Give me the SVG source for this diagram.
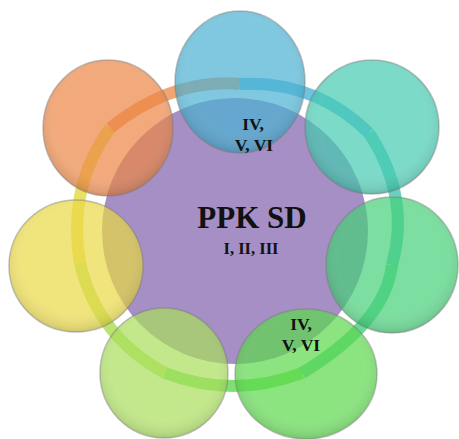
<svg xmlns="http://www.w3.org/2000/svg" width="459" height="439" viewBox="0 0 459 439">
<defs>
<radialGradient id="shade" cx="0.5" cy="0.45" r="0.55">
<stop offset="0.7" stop-color="#ffffff" stop-opacity="0"/>
<stop offset="0.95" stop-color="#000000" stop-opacity="0.08"/>
<stop offset="1" stop-color="#000000" stop-opacity="0.15"/>
</radialGradient>
</defs>
<style>
.sat{opacity:0.7;}
.rim{fill:url(#shade);stroke:#7a7a7a;stroke-opacity:0.45;stroke-width:1.5;}
.seg{fill:none;stroke-width:12;stroke-opacity:0.8;}
.hl{fill:none;stroke:#ffffff;stroke-width:2;stroke-opacity:0.25;}
.t{font-family:"Liberation Serif","Times New Roman",serif;font-weight:bold;fill:#111111;text-anchor:middle;}
</style>
<rect width="459" height="439" fill="#ffffff"/>
<g id="center">
<circle cx="235" cy="231" r="133" fill="#a58fc4"/>
</g>
<g id="connectors">
<path class="seg" stroke="#ec8f50" d="M110,128 Q173,78 240,84"/>
<path class="seg" stroke="#4ab4d8" d="M240,84 Q315,80 369,133"/>
<path class="seg" stroke="#45c4b0" d="M369,133 Q411,197 392,265"/>
<path class="seg" stroke="#45cc80" d="M392,265 Q385,323 302,373"/>
<path class="seg" stroke="#5cd84c" d="M302,373 Q233,399 165,373"/>
<path class="seg" stroke="#a9dc50" d="M165,373 Q97,336 80,263"/>
<path class="seg" stroke="#e6d840" d="M80,263 Q67,188 110,128"/>
</g>
<g id="node-blue">
<ellipse class="sat" cx="240" cy="82" rx="65" ry="71" fill="#4ab0d3"/>
<ellipse class="rim" cx="240" cy="82" rx="65" ry="71"/>
</g>
<g id="node-teal">
<ellipse class="sat" cx="372" cy="127" rx="67" ry="67" fill="#45caB0"/>
<ellipse class="rim" cx="372" cy="127" rx="67" ry="67"/>
</g>
<g id="node-green">
<ellipse class="sat" cx="392" cy="265" rx="66" ry="68" fill="#45d077"/>
<ellipse class="rim" cx="392" cy="265" rx="66" ry="68"/>
</g>
<g id="node-lightgreen">
<ellipse class="sat" cx="306" cy="374" rx="71" ry="65" fill="#5bd84c"/>
<ellipse class="rim" cx="306" cy="374" rx="71" ry="65"/>
</g>
<g id="node-yellowgreen">
<ellipse class="sat" cx="164" cy="373" rx="64" ry="65" fill="#a9de5b"/>
<ellipse class="rim" cx="164" cy="373" rx="64" ry="65"/>
</g>
<g id="node-yellow">
<ellipse class="sat" cx="76" cy="266" rx="67" ry="66" fill="#ead845"/>
<ellipse class="rim" cx="76" cy="266" rx="67" ry="66"/>
</g>
<g id="node-orange">
<ellipse class="sat" cx="108" cy="128" rx="65" ry="68" fill="#ec8645"/>
<ellipse class="rim" cx="108" cy="128" rx="65" ry="68"/>
</g>
<g id="labels">
<text class="t" x="252" y="228" font-size="31">PPK SD</text>
<text class="t" x="251" y="254" font-size="16.5">I, II, III</text>
<text class="t" x="253" y="130" font-size="17.5">IV,</text>
<text class="t" x="254" y="151" font-size="17.5">V, VI</text>
<text class="t" x="301" y="330" font-size="17.5">IV,</text>
<text class="t" x="301" y="351" font-size="17.5">V, VI</text>
</g>
</svg>
